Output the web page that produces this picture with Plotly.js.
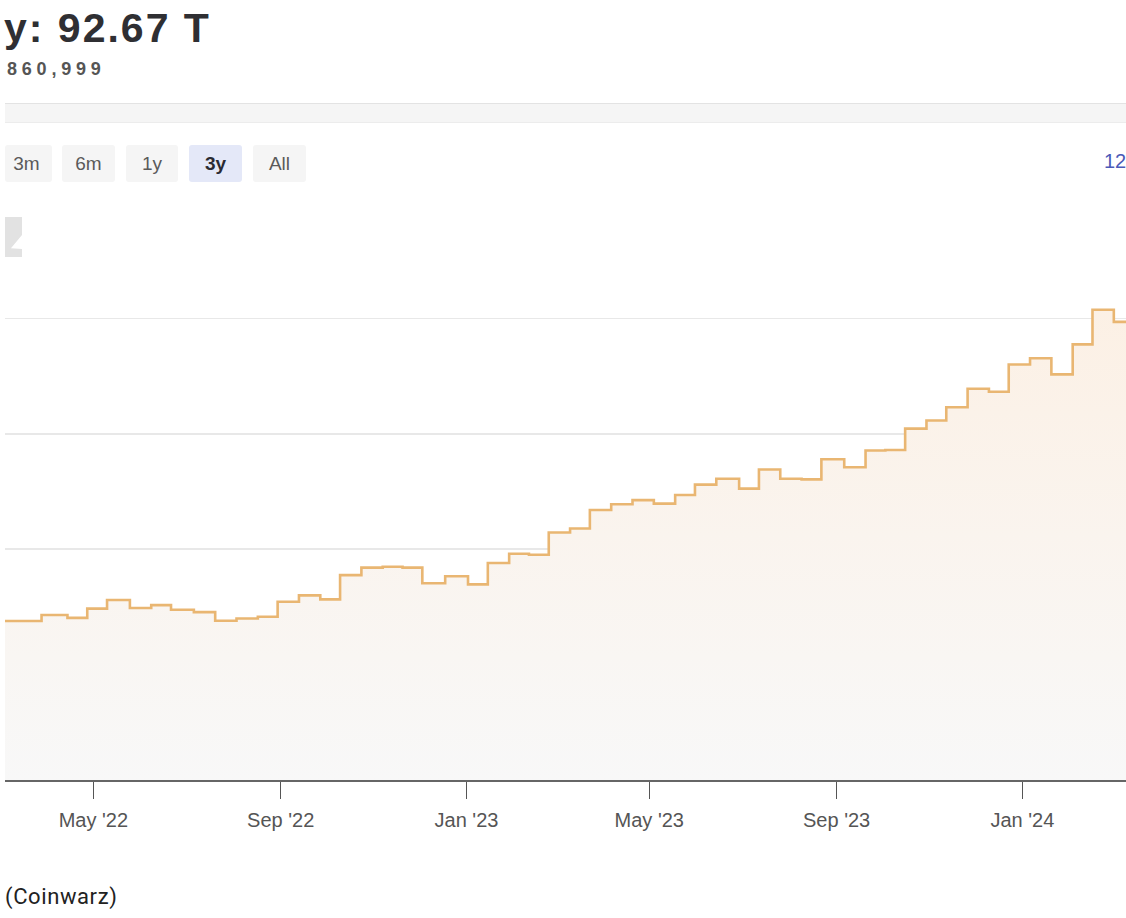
<!DOCTYPE html>
<html>
<head>
<meta charset="utf-8">
<script src="https://cdn.plot.ly/plotly-3.0.1.min.js"></script>
<style>
  html, body { margin:0; padding:0; background:#fff; }
  #wrap { position:relative; width:1126px; height:918px; overflow:hidden; }
  #chart { position:absolute; left:0; top:0; width:1126px; height:918px; }
  .ov { position:absolute; font-family:"Liberation Sans", Arial, sans-serif; white-space:nowrap; }
  .btn { position:absolute; top:145px; height:37px; line-height:37px; text-align:center;
         background:#f5f5f5; color:#5a5a5a; font-size:19px; border-radius:3px;
         font-family:"Liberation Sans", Arial, sans-serif; }
</style>
</head>
<body>
<div id="wrap">
  <div id="chart"></div>
  <div class="ov" id="title" style="left:4px; top:5px; font-size:41px; font-weight:bold; color:#2f2f33; letter-spacing:2px;"></div>
  <div class="ov" id="sub" style="left:7px; top:59px; font-size:18px; font-weight:bold; color:#555; letter-spacing:4.8px;"></div>
  <div class="ov" style="left:5px; top:103px; width:1121px; height:18px; background:#f5f5f5; border-top:1px solid #e3e3e3; border-bottom:1px solid #ececec;"></div>
  <div id="btns"></div>
  <div class="ov" id="right" style="left:1104px; top:150px; font-size:20px; color:#4a5ab8;"></div>
  <div class="ov" style="left:5px; top:217px; width:17px; height:40px; background:#e2e2e2; clip-path:polygon(0 0,100% 0,100% 45%,35% 78%,100% 80%,100% 100%,0 100%);"></div>
  <div class="ov" id="src" style="left:5px; top:884px; font-size:22px; color:#222; font-family:Roboto, 'Liberation Sans', Arial, sans-serif; letter-spacing:0.6px;"></div>
</div>
<script>
// ---- text ----
const titleText = "y: 92.67 T";
const subText = "860,999";
const rangeButtons = ["3m", "6m", "1y", "3y", "All"];
const activeButton = "3y";
const rightText = "12";
const sourceText = "(Coinwarz)";

// ---- x axis ticks ----
const tickDates = ["2022-05-01", "2022-09-01", "2023-01-01", "2023-05-01", "2023-09-01", "2024-01-01"];
const tickLabels = ["May '22", "Sep '22", "Jan '23", "May '23", "Sep '23", "Jan '24"];

// ---- difficulty series (step start dates, value in T) ----
const stepDates = ["2022-03-01","2022-03-28","2022-04-14","2022-04-27","2022-05-10","2022-05-25","2022-06-08","2022-06-21",
  "2022-07-06","2022-07-20","2022-08-03","2022-08-17","2022-08-30","2022-09-13","2022-09-27","2022-10-10","2022-10-24",
  "2022-11-07","2022-11-20","2022-12-03","2022-12-18","2023-01-02","2023-01-15","2023-01-29","2023-02-11","2023-02-24",
  "2023-03-10","2023-03-23","2023-04-06","2023-04-20","2023-05-04","2023-05-18","2023-05-31","2023-06-14","2023-06-29",
  "2023-07-12","2023-07-26","2023-08-09","2023-08-22","2023-09-06","2023-09-20","2023-10-03","2023-10-16","2023-10-30",
  "2023-11-12","2023-11-26","2023-12-10","2023-12-23","2024-01-06","2024-01-20","2024-02-03","2024-02-16","2024-03-01","2024-03-09"];
const difficultyT = [27.55, 28.6, 28.1, 29.7, 31.2, 29.8, 30.3, 29.5,
  29.1, 27.6, 28.0, 28.3, 30.9, 32.0, 31.3, 35.5, 36.8,
  36.95, 36.8, 34.1, 35.3, 33.9, 37.6, 39.2, 39.05, 42.9,
  43.6, 46.8, 47.8, 48.5, 47.9, 49.4, 51.2, 52.2, 50.5,
  53.8, 52.2, 52.1, 55.6, 54.2, 57.1, 57.2, 60.9, 62.3,
  64.6, 67.8, 67.3, 72.0, 73.1, 70.3, 75.5, 81.5, 79.4, 79.4];

const xRange = ["2022-03-04", "2024-03-09"];
const yRange = [0, 100];

// ---- header overlays ----
document.getElementById("title").textContent = titleText;
document.getElementById("sub").textContent = subText;
document.getElementById("right").textContent = rightText;
document.getElementById("src").textContent = sourceText;
const btnLefts = [5, 62, 126, 189, 253];
const btnWidths = [47, 53, 52, 53, 53];
const btnBox = document.getElementById("btns");
rangeButtons.forEach((b, i) => {
  const d = document.createElement("div");
  d.className = "btn";
  d.textContent = b;
  d.style.left = btnLefts[i] + "px";
  d.style.width = btnWidths[i] + "px";
  if (i === 0) { d.style.textIndent = "-4px"; }
  if (b === activeButton) { d.style.background = "#e4e8f8"; d.style.fontWeight = "bold"; d.style.color = "#2b2b33"; }
  btnBox.appendChild(d);
});

// ---- chart ----
const trace = {
  type: "scatter",
  mode: "lines",
  x: stepDates,
  y: difficultyT,
  line: { shape: "hv", color: "#e9b672", width: 2.6 },
  fill: "tozeroy",
  fillgradient: {
    type: "vertical",
    start: 0,
    stop: 85,
    colorscale: [[0, "rgb(248,248,248)"], [1, "rgb(252,240,228)"]]
  },
  hoverinfo: "skip"
};

const layout = {
  width: 1126,
  height: 918,
  margin: { l: 5, r: 0, t: 203, b: 138 },
  paper_bgcolor: "#ffffff",
  plot_bgcolor: "#ffffff",
  showlegend: false,
  xaxis: {
    type: "date",
    range: xRange,
    showgrid: false,
    zeroline: false,
    showline: true,
    linecolor: "#666666",
    linewidth: 2,
    ticks: "outside",
    ticklen: 17,
    tickwidth: 1.5,
    tickcolor: "#555555",
    tickvals: tickDates,
    ticktext: tickLabels,
    ticklabelstandoff: 4,
    tickfont: { family: "Liberation Sans, Arial, sans-serif", size: 20, color: "#555555" },
    fixedrange: true
  },
  yaxis: {
    range: yRange,
    tick0: 0,
    dtick: 20,
    showgrid: true,
    gridcolor: "#e8e8e8",
    gridwidth: 1.5,
    zeroline: false,
    showticklabels: false,
    ticks: "",
    fixedrange: true
  }
};

Plotly.newPlot("chart", [trace], layout, { displayModeBar: false, staticPlot: true });
</script>
</body>
</html>
